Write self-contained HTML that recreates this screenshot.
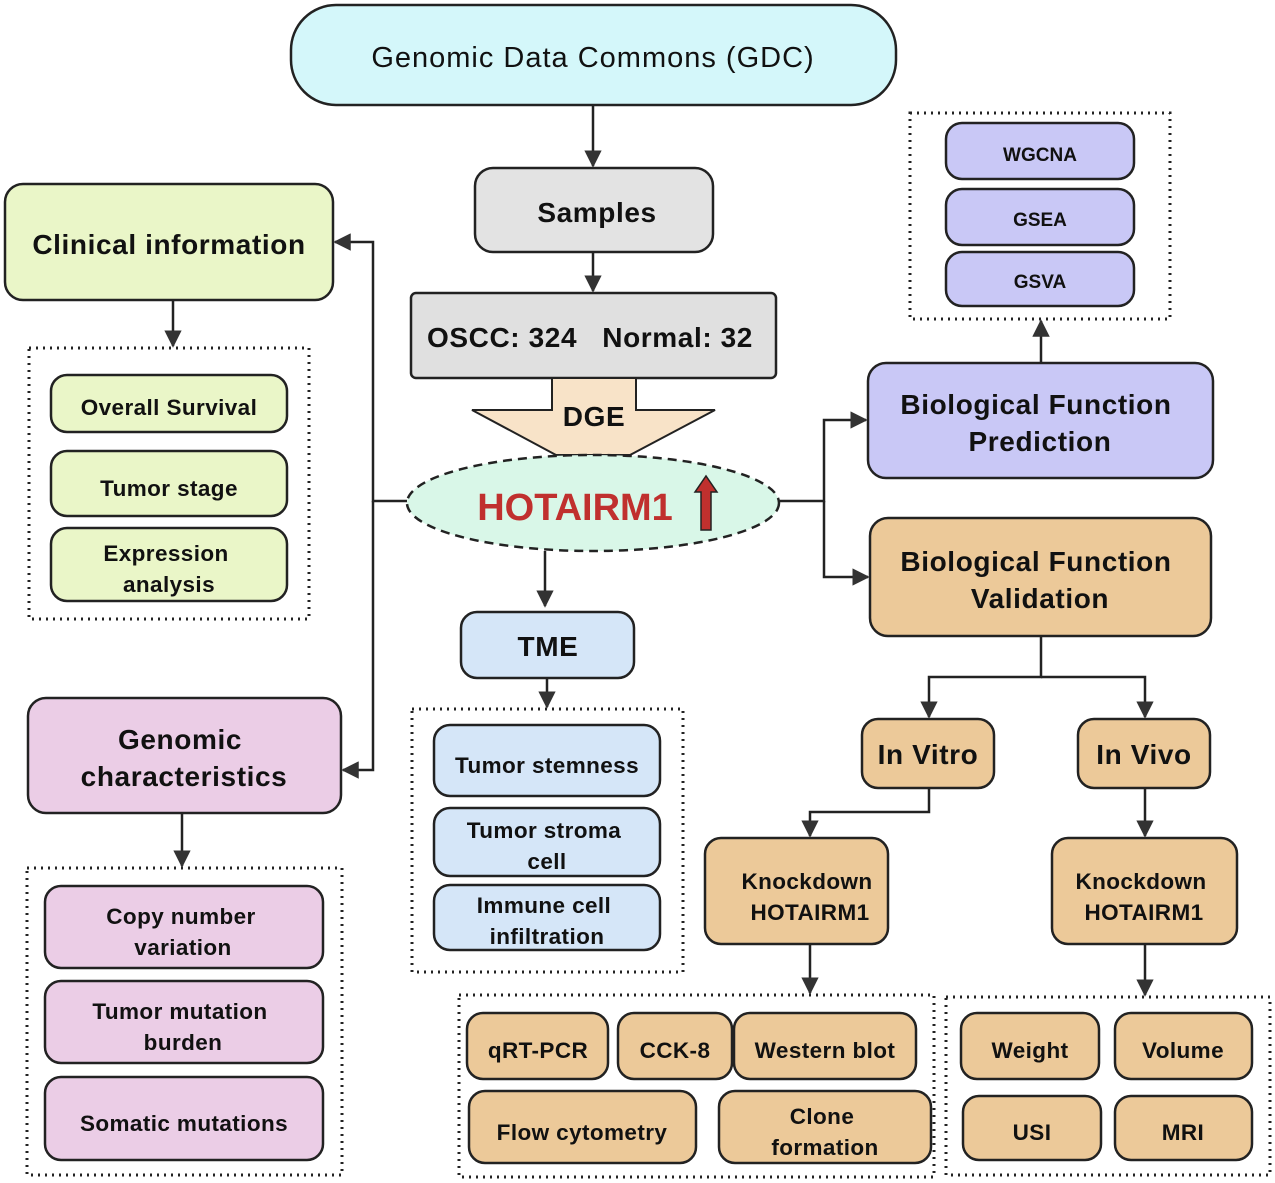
<!DOCTYPE html>
<html><head><meta charset="utf-8"><style>html,body{margin:0;padding:0;background:#fff}svg{display:block}text{font-family:"Liberation Sans",sans-serif;text-anchor:middle;fill:#111}.b{font-size:28px;letter-spacing:0.6px}.s{font-size:22.5px;letter-spacing:0.4px}</style></head><body>
<svg width="1275" height="1183" viewBox="0 0 1275 1183" xmlns="http://www.w3.org/2000/svg">
<defs><marker id="a" viewBox="0 0 10 10" refX="9" refY="5" markerWidth="7" markerHeight="7" orient="auto"><path d="M0,0 L10,5 L0,10 z" fill="#333"/></marker></defs>
<g stroke="#222" stroke-width="2.5" fill="none">
<rect x="291" y="5" width="605" height="100" rx="45" fill="#d4f7fa"/>
<rect x="475" y="168" width="238" height="84" rx="18" fill="#e3e3e3"/>
<rect x="411" y="293" width="365" height="85" rx="5" fill="#e0e0e0"/>
<polygon points="552,378 636,378 636,410 715,410 630,455 556,455 472,410 552,410" fill="#f8e3c8" stroke-width="2"/>
<ellipse cx="593" cy="503" rx="186" ry="48" fill="#d9f7e8" stroke-dasharray="9,6"/>
<rect x="5" y="184" width="328" height="116" rx="18" fill="#eaf6c8"/>
<rect x="29" y="348" width="280" height="271" stroke-dasharray="2,5" stroke-width="3"/>
<rect x="51" y="375" width="236" height="57" rx="16" fill="#eaf6c8"/>
<rect x="51" y="451" width="236" height="65" rx="16" fill="#eaf6c8"/>
<rect x="51" y="528" width="236" height="73" rx="16" fill="#eaf6c8"/>
<rect x="28" y="698" width="313" height="115" rx="18" fill="#ebcde6"/>
<rect x="27" y="868" width="315" height="307" stroke-dasharray="2,5" stroke-width="3"/>
<rect x="45" y="886" width="278" height="82" rx="16" fill="#ebcde6"/>
<rect x="45" y="981" width="278" height="82" rx="16" fill="#ebcde6"/>
<rect x="45" y="1077" width="278" height="83" rx="16" fill="#ebcde6"/>
<rect x="461" y="612" width="173" height="66" rx="16" fill="#d5e6f8"/>
<rect x="412" y="709" width="271" height="263" stroke-dasharray="2,5" stroke-width="3"/>
<rect x="434" y="725" width="226" height="71" rx="16" fill="#d5e6f8"/>
<rect x="434" y="808" width="226" height="68" rx="16" fill="#d5e6f8"/>
<rect x="434" y="885" width="226" height="65" rx="16" fill="#d5e6f8"/>
<rect x="868" y="363" width="345" height="115" rx="18" fill="#c9c8f6"/>
<rect x="910" y="113" width="260" height="206" stroke-dasharray="2,5" stroke-width="3"/>
<rect x="946" y="123" width="188" height="56" rx="16" fill="#c9c8f6"/>
<rect x="946" y="189" width="188" height="56" rx="16" fill="#c9c8f6"/>
<rect x="946" y="252" width="188" height="54" rx="16" fill="#c9c8f6"/>
<rect x="870" y="518" width="341" height="118" rx="18" fill="#ecc999"/>
<rect x="862" y="719" width="132" height="69" rx="16" fill="#ecc999"/>
<rect x="1078" y="719" width="132" height="69" rx="16" fill="#ecc999"/>
<rect x="705" y="838" width="183" height="106" rx="16" fill="#ecc999"/>
<rect x="1052" y="838" width="185" height="106" rx="16" fill="#ecc999"/>
<rect x="459" y="995" width="475" height="182" stroke-dasharray="2,5" stroke-width="3"/>
<rect x="467" y="1013" width="141" height="66" rx="16" fill="#ecc999"/>
<rect x="618" y="1013" width="114" height="66" rx="16" fill="#ecc999"/>
<rect x="734" y="1013" width="182" height="66" rx="16" fill="#ecc999"/>
<rect x="469" y="1091" width="227" height="72" rx="16" fill="#ecc999"/>
<rect x="719" y="1091" width="212" height="72" rx="16" fill="#ecc999"/>
<rect x="946" y="997" width="324" height="178" stroke-dasharray="2,5" stroke-width="3"/>
<rect x="961" y="1013" width="138" height="66" rx="16" fill="#ecc999"/>
<rect x="1115" y="1013" width="137" height="66" rx="16" fill="#ecc999"/>
<rect x="963" y="1096" width="138" height="64" rx="16" fill="#ecc999"/>
<rect x="1115" y="1096" width="137" height="64" rx="16" fill="#ecc999"/>
</g>
<g stroke="#222" stroke-width="2.5" fill="none" marker-end="url(#a)">
<path d="M593 105 V166"/><path d="M593 252 V291"/>
<path d="M407 501 H373 V242 H335"/><path d="M373 501 V770 H343"/>
<path d="M780 501 H824 V420 H866"/><path d="M824 501 V577 H868"/>
<path d="M173 300 V346"/><path d="M182 813 V866"/>
<path d="M545 551 V606"/><path d="M547 678 V707"/>
<path d="M1041 363 V321"/>
<path d="M1041 636 V677 H929 V717"/><path d="M1041 677 H1145 V717"/>
<path d="M929 788 V812 H810 V836"/><path d="M1145 788 V836"/>
<path d="M810 944 V993"/><path d="M1145 944 V995"/>
</g>
<polygon points="701,530 711,530 711,492 717,492 706,476 695,492 701,492" fill="#c0302e" stroke="#222" stroke-width="1.5"/>
<g font-weight="bold">
<text x="593" y="67" font-size="29" font-weight="normal" letter-spacing="1">Genomic Data Commons (GDC)</text>
<text x="597" y="222" class="b">Samples</text>
<text x="590" y="347" class="b">OSCC: 324&#160;&#160;&#160;Normal: 32</text>
<text x="594" y="426" class="b">DGE</text>
<text x="575" y="520" font-size="38" style="fill:#c0302e">HOTAIRM1</text>
<text x="169" y="254" class="b">Clinical information</text>
<text x="169" y="415" class="s">Overall Survival</text>
<text x="169" y="496" class="s">Tumor stage</text>
<text x="166" y="561" class="s">Expression</text><text x="169" y="592" class="s">analysis</text>
<text x="180" y="749" class="b">Genomic</text><text x="184" y="786" class="b">characteristics</text>
<text x="181" y="924" class="s">Copy number</text><text x="183" y="955" class="s">variation</text>
<text x="180" y="1019" class="s">Tumor mutation</text><text x="183" y="1050" class="s">burden</text>
<text x="184" y="1131" class="s">Somatic mutations</text>
<text x="548" y="656" class="b">TME</text>
<text x="547" y="773" class="s">Tumor stemness</text>
<text x="544" y="838" class="s">Tumor stroma</text><text x="547" y="869" class="s">cell</text>
<text x="544" y="913" class="s">Immune cell</text><text x="547" y="944" class="s">infiltration</text>
<text x="1040" y="161" font-size="19">WGCNA</text>
<text x="1040" y="226" font-size="19">GSEA</text>
<text x="1040" y="288" font-size="19">GSVA</text>
<text x="1036" y="414" class="b">Biological Function</text><text x="1040" y="451" class="b">Prediction</text>
<text x="1036" y="571" class="b">Biological Function</text><text x="1040" y="608" class="b">Validation</text>
<text x="928" y="764" class="b">In Vitro</text>
<text x="1144" y="764" class="b">In Vivo</text>
<text x="807" y="889" class="s">Knockdown</text><text x="810" y="920" class="s">HOTAIRM1</text>
<text x="1141" y="889" class="s">Knockdown</text><text x="1144" y="920" class="s">HOTAIRM1</text>
<text x="538" y="1058" class="s">qRT-PCR</text>
<text x="675" y="1058" class="s">CCK-8</text>
<text x="825" y="1058" class="s">Western blot</text>
<text x="582" y="1140" class="s">Flow cytometry</text>
<text x="822" y="1124" class="s">Clone</text><text x="825" y="1155" class="s">formation</text>
<text x="1030" y="1058" class="s">Weight</text>
<text x="1183" y="1058" class="s">Volume</text>
<text x="1032" y="1140" class="s">USI</text>
<text x="1183" y="1140" class="s">MRI</text>
</g>
</svg>
</body></html>
